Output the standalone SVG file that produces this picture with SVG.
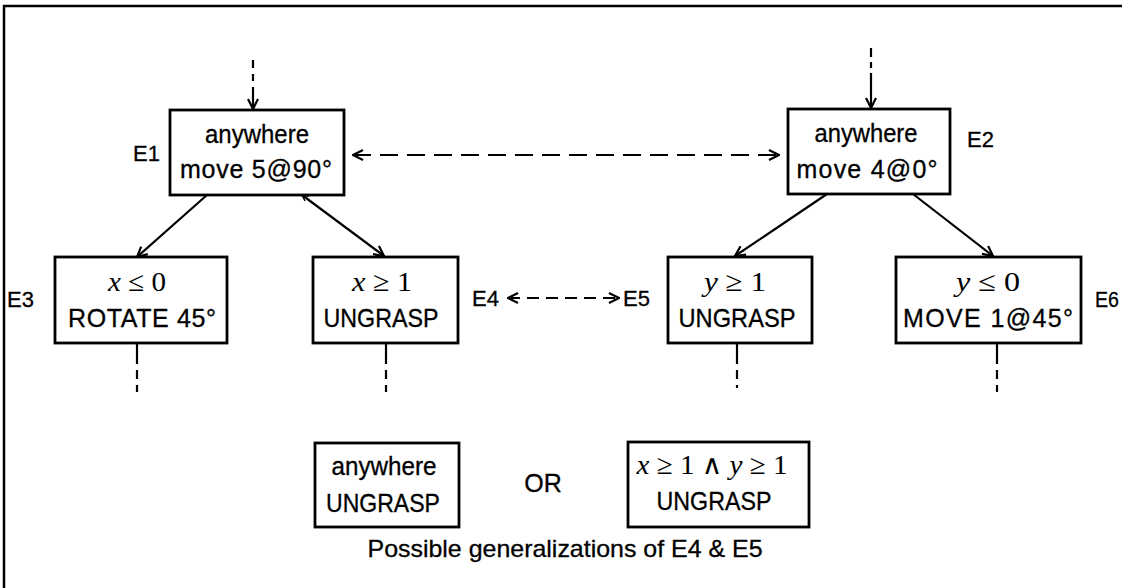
<svg xmlns="http://www.w3.org/2000/svg" width="1122" height="588" viewBox="0 0 1122 588">
<defs>
<style>
.box{fill:#fff;stroke:#000;stroke-width:2.8}
.t{font-family:"Liberation Sans",Arial,sans-serif;font-size:25px;fill:#000;stroke:#000;stroke-width:0.3;text-anchor:middle}
.lab{font-family:"Liberation Sans",Arial,sans-serif;font-size:22px;fill:#000;stroke:#000;stroke-width:0.3}
.m{font-family:"Liberation Serif","DejaVu Serif",serif;font-size:28px;fill:#000;text-anchor:middle}
.ln{fill:none;stroke:#000;stroke-width:2.2}
.dl{fill:none;stroke:#000;stroke-width:2.2;stroke-dasharray:18 9}
.ds{fill:none;stroke:#000;stroke-width:2.2;stroke-dasharray:12 7}
.dv{fill:none;stroke:#000;stroke-width:2.2;stroke-dasharray:20 6 9 6 9}
</style>
<marker id="ah" viewBox="0 0 12 12" refX="11" refY="6" markerWidth="12" markerHeight="12" markerUnits="userSpaceOnUse" orient="auto-start-reverse">
<path d="M1,1 L11,6 L1,11" fill="none" stroke="#000" stroke-width="2.2"/>
</marker>
<marker id="sm" viewBox="0 0 8 8" refX="7" refY="4" markerWidth="8" markerHeight="8" markerUnits="userSpaceOnUse" orient="auto-start-reverse">
<path d="M1,1 L7,4 L1,7" fill="none" stroke="#000" stroke-width="1.5"/>
</marker>
</defs>
<rect width="1122" height="588" fill="#fff"/>
<path d="M4,588 V6 H1122" fill="none" stroke="#000" stroke-width="2.5"/>

<g id="connectors">
<path class="ln" d="M253,60 V68 M253,74 V81"/>
<path class="ln" d="M253,87 V109" marker-end="url(#ah)"/>
<path class="ln" d="M871,48 V57 M871,62 V68"/>
<path class="ln" d="M871,73 V108" marker-end="url(#ah)"/>
<path class="dl" d="M353,155 H779" marker-start="url(#ah)" marker-end="url(#ah)"/>
<path class="ln" d="M207,195 L137,257" marker-end="url(#ah)"/>
<path class="ln" d="M302,195 L384,256" marker-start="url(#sm)" marker-end="url(#ah)"/>
<path class="ln" d="M827,194 L735,256" marker-end="url(#ah)"/>
<path class="ln" d="M913,194 L993,256" marker-end="url(#ah)"/>
<path class="ds" d="M508,298 H619" marker-start="url(#ah)" marker-end="url(#ah)"/>
<path class="dv" d="M137,344 V392"/>
<path class="dv" d="M386,344 V392"/>
<path class="dv" d="M737,344 V388"/>
<path class="dv" d="M997,344 V392"/>
</g>

<g id="E1">
<rect class="box" x="170" y="110" width="174" height="85"/>
<text class="t" x="257" y="143" textLength="104" lengthAdjust="spacingAndGlyphs">anywhere</text>
<text class="t" x="256" y="178" textLength="152" lengthAdjust="spacing">move 5@90°</text>
<text class="lab" x="133" y="161">E1</text>
</g>

<g id="E2">
<rect class="box" x="788" y="109" width="162" height="85"/>
<text class="t" x="866" y="142" textLength="103" lengthAdjust="spacingAndGlyphs">anywhere</text>
<text class="t" x="867" y="178" textLength="141" lengthAdjust="spacing">move 4@0°</text>
<text class="lab" x="967" y="147">E2</text>
</g>

<g id="E3">
<rect class="box" x="55" y="257" width="172" height="86"/>
<text class="m" x="137" y="291" textLength="58" lengthAdjust="spacingAndGlyphs"><tspan font-style="italic">x</tspan> ≤ 0</text>
<text class="t" x="142" y="327" textLength="148" lengthAdjust="spacing">ROTATE 45°</text>
<text class="lab" x="7" y="307">E3</text>
</g>

<g id="E4">
<rect class="box" x="313" y="257" width="145" height="86"/>
<text class="m" x="382" y="291" textLength="60" lengthAdjust="spacingAndGlyphs"><tspan font-style="italic">x</tspan> ≥ 1</text>
<text class="t" x="381" y="327" textLength="115" lengthAdjust="spacingAndGlyphs">UNGRASP</text>
<text class="lab" x="472" y="306">E4</text>
</g>

<g id="E5">
<rect class="box" x="668" y="257" width="144" height="86"/>
<text class="m" x="735" y="291" textLength="62" lengthAdjust="spacingAndGlyphs"><tspan font-style="italic">y</tspan> ≥ 1</text>
<text class="t" x="737" y="327" textLength="117" lengthAdjust="spacingAndGlyphs">UNGRASP</text>
<text class="lab" x="623" y="306">E5</text>
</g>

<g id="E6">
<rect class="box" x="896" y="257" width="185" height="86"/>
<text class="m" x="988" y="291" textLength="64" lengthAdjust="spacingAndGlyphs"><tspan font-style="italic">y</tspan> ≤ 0</text>
<text class="t" x="988" y="327" textLength="170" lengthAdjust="spacing">MOVE 1@45°</text>
<text class="lab" x="1095" y="307" textLength="24" lengthAdjust="spacingAndGlyphs">E6</text>
</g>

<g id="G1">
<rect class="box" x="315" y="443" width="144" height="84"/>
<text class="t" x="384" y="475" textLength="105" lengthAdjust="spacingAndGlyphs">anywhere</text>
<text class="t" x="383" y="512" textLength="114" lengthAdjust="spacingAndGlyphs">UNGRASP</text>
</g>

<text class="t" x="543" y="492">OR</text>

<g id="G2">
<rect class="box" x="628" y="442" width="181" height="85"/>
<text class="m" x="712" y="474" textLength="151" lengthAdjust="spacingAndGlyphs"><tspan font-style="italic">x</tspan> ≥ 1 <tspan font-family="DejaVu Serif" font-size="27">∧</tspan> <tspan font-style="italic">y</tspan> ≥ 1</text>
<text class="t" x="714" y="510" textLength="115" lengthAdjust="spacingAndGlyphs">UNGRASP</text>
</g>

<text class="t" x="565" y="557" textLength="395" lengthAdjust="spacingAndGlyphs" style="font-size:24px">Possible generalizations of E4 &amp; E5</text>
</svg>
